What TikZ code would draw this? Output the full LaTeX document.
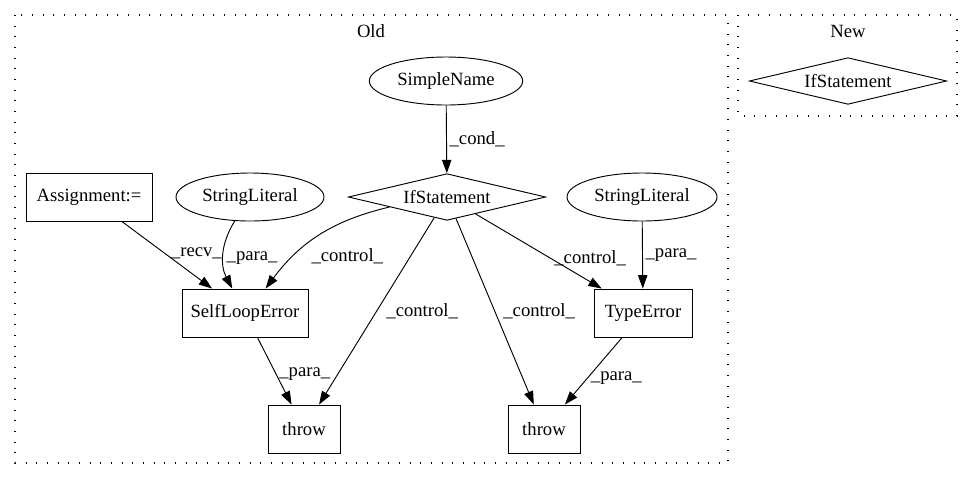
\documentclass[tikz,border=0pt]{standalone}
\usepackage{fontspec}
\setmainfont{Liberation Serif}
\usetikzlibrary{arrows.meta,positioning,shapes.geometric}

\tikzset{
  box/.style={draw, rectangle, minimum height=36pt, inner sep=0pt},
  leaf/.style={draw, ellipse, minimum height=36pt, inner sep=0pt},
  cond/.style={draw, diamond, minimum width=148pt, minimum height=35pt, inner sep=0pt, aspect=4.2},
  lbl/.style={right, inner sep=2pt},
  cluster/.style={-, draw, line width=0.8pt, dash pattern=on 0.8pt off 7.2pt}
}

\begin{document}
\begin{tikzpicture}[x=0.75pt,y=-0.75pt,->,>={Triangle[length=10pt,width=7pt]},line width=0.7pt,node distance=87pt,font=\fontsize{14}{16}\selectfont]
 \fill[white] (0,0) rectangle (973,480);
 \draw[cluster] (15,15) rectangle (728,463);
 \draw[cluster] (738,15) rectangle (957,116);
 \node (oldlbl) at (371,31) {Old};
 \node (newlbl) at (848,31) {New};

   \node[leaf, minimum width=115pt] (sname) at (446,81) {SimpleName};
   \node[cond, xshift=0.75pt] (ifold) [below of = sname] {IfStatement};
   \node[box, minimum width=94.5pt, node distance=268.5pt] (assign) [left of = ifold] {Assignment:=};
   \node[leaf, minimum width=111pt, node distance=147.75pt] (strlitA) [left of = ifold] {StringLiteral};
   \node[leaf, minimum width=112.5pt, node distance=146.25pt] (strlitB) [right of = ifold] {StringLiteral};
   \node[box, minimum width=94.5pt, xshift=-3.75pt] (selfloop) [below of = strlitA] {SelfLoopError};
   \node[box, minimum width=73.5pt, xshift=0.75pt] (typeerr) [below of = strlitB] {TypeError};
   \node[box, minimum width=54pt, xshift=44.25pt] (throwA) [below of = selfloop] {throw};
   \node[box, minimum width=54pt, xshift=-74.25pt] (throwB) [below of = typeerr] {throw};
   \node[cond] (ifnew) at (848,81) {IfStatement};

   \path[->]
   (sname) edge node[lbl] {\_cond\_} (ifold)
   (assign) edge node[lbl, pos=.48, xshift=2pt] {\_recv\_} (selfloop)
   (strlitA) edge [bend right=30] node[lbl, pos=.55] {\_para\_} (selfloop)
   (ifold) edge [bend right=20] node[lbl, pos=.62, xshift=2pt, yshift=-8pt] {\_control\_} (selfloop)
   (ifold) edge node[lbl, xshift=5pt] {\_control\_} (throwA)
   (ifold) edge node[lbl, xshift=4pt] {\_control\_} (throwB)
   (ifold) edge node[lbl, pos=.6] {\_control\_} (typeerr)
   (strlitB) edge node[lbl] {\_para\_} (typeerr)
   (selfloop) edge node[lbl, pos=.55] {\_para\_} (throwA)
   (typeerr) edge node[lbl, pos=.6] {\_para\_} (throwB);

\end{tikzpicture}
\end{document}
